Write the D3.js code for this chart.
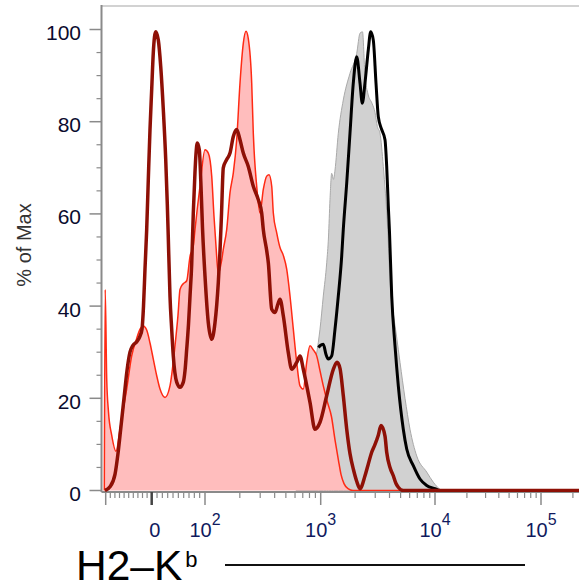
<!DOCTYPE html>
<html><head><meta charset="utf-8">
<script src="https://cdn.jsdelivr.net/npm/d3@7"></script>
<style>html,body{margin:0;padding:0;background:#fff;} svg{display:block;}</style>
</head><body>
<svg id="chart" width="579" height="588"></svg>
<script>
// ---------- tick definitions ----------
const yTicks = [0, 20, 40, 60, 80, 100];
const yMinorTicks = [5,10,15,25,30,35,45,50,55,65,70,75,85,90,95];
const xMajorTicks = [-100, 0, 1e2, 1e3, 1e4, 1e5];
const xLabelValues = [0, 1e2, 1e3, 1e4, 1e5];
const xLabelBase = ["0", "10", "10", "10", "10"];
const xLabelExp = ["", "2", "3", "4", "5"];
const xMinorTicks = [-90,-80,-70,-60,-50,-40,-30,-20,-10,10,20,30,40,50,60,70,80,90,
  200,300,400,500,600,700,800,900,2000,3000,4000,5000,6000,7000,8000,9000,
  20000,30000,40000,50000,60000,70000,80000,90000,200000];

// ---------- histogram data (x = H2-Kb intensity, y = % of Max) ----------
// red filled histogram
const redFillX = [-103,-101.1,-97.8,-93.9,-87,-77.6,-68.9,-61.7,-54.4,-43.5,-32.6,-25.4,-18.3,-10.9,-3.7,
  3.0,9.4,15.6,25,34.3,43.7,49.3,53.1,58.7,65.7,71.9,78,81.2,90.6,100,106.8,114.3,119.6,124.5,130.3,
  139.4,143.9,154,164.5,175.7,187.9,200.7,214.3,226.2,236.7,253.3,261.5,279.8,298.8,319.1,341.6,357.6,
  377.3,389.5,416.7,444.9,475.1,508.3,542.9,579.8,620.4,662.4,707.4,756.8,808.1,863,923.5,986,1054,
  1135,1243,1334,1431,1505,1599,1733,1917,262144];
const redFillY = [0,43.6,24.2,17,12,8.5,13.3,17.7,22,29.2,33,35,35.7,34.8,32,
  28.5,24.9,22,20.2,22.7,31.4,38,43.6,44.8,45.5,50.8,53,56.6,66,73.9,73.2,68.2,59.5,53,47,
  50,52.3,56.6,64.6,68.9,76.1,88.4,97,99.6,98,88.4,77.5,66,60.2,65.3,68.2,68.5,
  66,60.2,55.9,52.7,51,48,42.2,35,27.8,22.7,22,27.8,31.4,30.5,29.2,26,22.7,
  19.5,16,11,6.5,3.5,1.5,0.4,0,0];

// dark red line
const darkRedX = [-101.5,-90.7,-79.8,-73.3,-66.7,-60.2,-53.7,-47.2,-40.7,-32,-25.4,-21.1,-17.8,-14.6,-10.9,-7.4,-3.7,0,
  3.0,7.5,12.4,16.9,21.8,26.3,29.3,31.1,34.3,37.5,40.5,46.9,53.1,59.3,62.5,65.7,69,71.9,75,78,81.2,83.1,85.5,89.3,92.5,95.3,
  100,106.8,114.3,122,130.3,134.8,138.9,143.9,154,164.5,175.7,187.9,200.7,214.3,236.7,261.5,288.8,309,319.1,341.6,352.6,
  377.3,402.7,427.5,444.9,475.1,524.8,561.5,620.4,662.4,707.4,808.1,892.8,986.3,1129,1289,1389,1475,1576,1689,1804,1936,
  2065,2207,2441,2593,2794,2987,3191,3370,3652,3779,4040,4317,4558,4775,5280,262144];
const darkRedY = [0,0.8,3.5,8,14,20,26,30,31.5,32.3,33.5,35,40,48,56.6,67.4,78.3,87,
  95,99.5,97.7,92,82.6,71.8,62,55,42.2,35,29.2,23.5,22.4,23.5,26,30.7,36,42.2,49,60,69,73,75.4,73.9,66,57,
  46.5,36.4,32.8,36.4,45.1,52,60,70,71.8,73.2,76.8,78.3,76.1,73.2,70.3,66,63.1,60.2,56.6,52,49.4,
  39.3,38.6,40.5,41.5,37.9,29.9,26.3,27.8,29.2,26.3,19.1,13.3,14.8,20.6,26.3,27.8,26.5,20.6,13.3,8,4.5,
  2,0.4,3.2,5.5,8.3,10,12,14.1,11.8,8.3,5,3.2,1.5,0.7,0,0];

// gray filled histogram
const grayX = [611.6,689.3,776.8,875.2,953.3,986.3,1054,1129,1170,1206,1248,1294,1334,1426,1576,1804,2065,2207,2321,
  2441,2593,2810,2987,3128,3303,3529,3857,4040,4292,4605,4941,5465,6043,6918,8461,9663,11393];
const grayY = [0,3,12,26,32.1,35,42.2,49.4,55,63.1,68.8,67.5,69.5,77.5,84.7,90.5,94.8,99.2,99.5,
  90,86,84,82,79,77.5,70.3,56.6,45.6,39,33.5,27.8,20,13.3,7.5,4,1.8,0];

// black line
const blackX = [957,986,1054,1113,1166,1248,1334,1426,1526,1576,1689,1804,1929,2065,2207,2312,2441,2609,2737,2885,
  3046,3191,3417,3652,3779,3904,3999,4181,4467,4775,5280,5656,6459,7392,8461,10000,11147,262144];
const blackY = [31,31.4,31.7,29.5,28.5,29.2,35,42.2,50.8,56.6,66.7,77.5,88.4,94.1,88.4,84,88.4,95.6,99.5,97.7,
  88.4,81.1,78.3,76.1,70.3,61.7,56,42.2,31.4,22.7,13.3,9,5.4,2.5,1.1,0.4,0,0];

// ---------- scales ----------
const svg = d3.select("#chart");
const plotLeft = 101.5, plotTop = 6, plotRight = 579, axisY = 492;
const T = v => v >= 100 ? Math.log10(v) : 2 + (v - 100) / (100 * Math.LN10);
const xs = d3.scaleLinear().domain([T(-100), T(0), 2, 3, 4, 5]).range([105.7, 151.7, 205, 320.7, 435, 541]);
const X = v => xs(T(v));
const y = d3.scaleLinear().domain([0, 105.1]).range([490.5, plotTop]);

const FONT = "'Liberation Sans', Arial, Helvetica, sans-serif";

svg.append("clipPath").attr("id", "clip").append("rect")
  .attr("x", plotLeft).attr("y", plotTop).attr("width", plotRight - plotLeft).attr("height", axisY - plotTop);

const toPts = (xa, ya) => xa.map((v, i) => [v, ya[i]]);
const area = d3.area().x(d => X(d[0])).y0(y(0)).y1(d => y(d[1])).curve(d3.curveMonotoneX);
const line = d3.line().x(d => X(d[0])).y(d => y(d[1])).curve(d3.curveMonotoneX);

const g = svg.append("g").attr("clip-path", "url(#clip)");

// gray fill
g.append("path").datum(toPts(grayX, grayY)).attr("d", area)
  .attr("fill", "#d1d1d1").attr("stroke", "#a9a9a9").attr("stroke-width", 1);
// black line
g.append("path").datum(toPts(blackX, blackY)).attr("d", line)
  .attr("fill", "none").attr("stroke", "#000").attr("stroke-width", 3).attr("stroke-linejoin", "round");
// red filled
g.append("path").datum(toPts(redFillX, redFillY)).attr("d", area)
  .attr("fill", "#ffbdbd").attr("stroke", "none");
g.append("path").datum(toPts(redFillX, redFillY)).attr("d", line)
  .attr("fill", "none").attr("stroke", "#ff2a14").attr("stroke-width", 1.5);

// ---------- axes ----------
const axisColor = "#8a8a8a";
// top frame
svg.append("line").attr("x1", plotLeft).attr("x2", plotRight).attr("y1", plotTop).attr("y2", plotTop)
  .attr("stroke", "#d2d2d2").attr("stroke-width", 2);
// y axis
svg.append("line").attr("x1", plotLeft).attr("x2", plotLeft).attr("y1", plotTop - 1).attr("y2", axisY)
  .attr("stroke", axisColor).attr("stroke-width", 2);
// x axis
svg.append("line").attr("x1", plotLeft).attr("x2", plotRight).attr("y1", axisY).attr("y2", axisY)
  .attr("stroke", axisColor).attr("stroke-width", 2);

// y ticks
svg.selectAll(".ymaj").data(yTicks).enter().append("line")
  .attr("x1", plotLeft - 12).attr("x2", plotLeft).attr("y1", d => y(d)).attr("y2", d => y(d))
  .attr("stroke", axisColor).attr("stroke-width", 1.5);
svg.selectAll(".ymin").data(yMinorTicks).enter().append("line")
  .attr("x1", plotLeft - 5).attr("x2", plotLeft).attr("y1", d => y(d)).attr("y2", d => y(d))
  .attr("stroke", axisColor).attr("stroke-width", 1.2);
svg.selectAll(".ylab").data(yTicks).enter().append("text")
  .attr("x", 81).attr("y", d => y(d) + 10.5).attr("text-anchor", "end")
  .attr("font-family", FONT).attr("font-size", 21).attr("fill", "#0b0b2e").text(d => d);

// x ticks
svg.selectAll(".xmaj").data(xMajorTicks).enter().append("line")
  .attr("x1", d => X(d)).attr("x2", d => X(d)).attr("y1", axisY).attr("y2", axisY + 13)
  .attr("stroke", d => d === 0 ? "#444" : axisColor).attr("stroke-width", d => d === 0 ? 2.5 : 1.5);
svg.selectAll(".xmin").data(xMinorTicks).enter().append("line")
  .attr("x1", d => X(d)).attr("x2", d => X(d)).attr("y1", axisY).attr("y2", axisY + 6)
  .attr("stroke", axisColor).attr("stroke-width", 1.2);
const xl = svg.selectAll(".xlab").data(xLabelValues).enter().append("text")
  .attr("x", (d, i) => X(d) + (i === 0 ? 3 : 0)).attr("y", 537).attr("text-anchor", "middle")
  .attr("font-family", FONT).attr("font-size", 20).attr("fill", "#101a5e");
xl.append("tspan").text((d, i) => xLabelBase[i]);
xl.filter((d, i) => xLabelExp[i] !== "").append("tspan").attr("dy", -12).attr("font-size", 16)
  .text(d => xLabelExp[xLabelValues.indexOf(d)]);

// dark red line on top
svg.append("g").attr("clip-path", "url(#clip)").append("path").datum(toPts(darkRedX, darkRedY)).attr("d", line)
  .attr("fill", "none").attr("stroke", "#8e1006").attr("stroke-width", 3.5).attr("stroke-linejoin", "round");

// y axis title
svg.append("text").attr("transform", "translate(31,245) rotate(-90)").attr("text-anchor", "middle")
  .attr("font-family", FONT).attr("font-size", 20).attr("fill", "#333").text("% of Max");

// x axis title
const title = svg.append("text").attr("x", 76).attr("y", 580)
  .attr("font-family", FONT).attr("font-size", 42.5).attr("fill", "#000");
title.append("tspan").text("H2–K");
title.append("tspan").attr("dy", -13).attr("dx", 3).attr("font-size", 22).text("b");
svg.append("line").attr("x1", 225).attr("x2", 525).attr("y1", 565).attr("y2", 565)
  .attr("stroke", "#111").attr("stroke-width", 2);
</script>
</body></html>
